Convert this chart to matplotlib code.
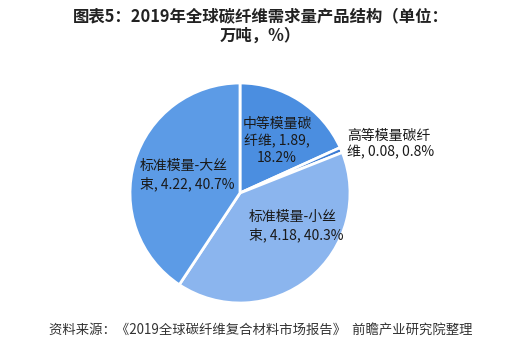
import matplotlib
matplotlib.use('agg')
import matplotlib.pyplot as plt

plt.rcParams['font.family'] = ['Noto Sans CJK SC', 'DejaVu Sans']

# product structure, 2019 global carbon fibre demand (10k tonnes, %)
names = ['中等模量碳纤维', '高等模量碳纤维', '标准模量-小丝束', '标准模量-大丝束']
values = [1.89, 0.08, 4.18, 4.22]
shares = ['18.2%', '0.8%', '40.3%', '40.7%']
label_text = ['中等模量碳\n纤维, 1.89,\n18.2%',
              '高等模量碳纤\n维, 0.08, 0.8%',
              '标准模量-小丝\n束, 4.18, 40.3%',
              '标准模量-大丝\n束, 4.22, 40.7%']
colors = ['#4b8ee0', '#3d7cd4', '#8bb5ee', '#5c9be6']

W, H = 521, 350
cx, cy, r = 240, 193, 110

fig = plt.figure(figsize=(W / 100, H / 100), dpi=100)
ax = fig.add_axes([(cx - r) / W, (H - cy - r) / H, 2 * r / W, 2 * r / H])
ax.pie(values, colors=colors, startangle=90, counterclock=False, radius=1,
       wedgeprops=dict(edgecolor='white', linewidth=2))
ax.set_xlim(-1, 1)
ax.set_ylim(-1, 1)
ax.axis('off')

def to_data(px, py):
    return (px - cx) / r, (cy - py) / r

# label anchors in pixels (x, y, ha)
spots = [(277, 141, 'center'), (347, 144, 'left'), (249, 226, 'left'), (140, 175, 'left')]
for txt, (px, py, ha) in zip(label_text, spots):
    x, y = to_data(px, py)
    ax.text(x, y, txt, ha=ha, va='center', fontsize=10, color='#1a1a1a',
            linespacing=1.25, clip_on=False, multialignment=ha)

fig.text(0.5, 1 - 26 / H, '图表5：2019年全球碳纤维需求量产品结构（单位：\n万吨，%）',
         ha='center', va='center', fontsize=11.8, fontweight='bold', color='#222222',
         linespacing=1.05)
fig.text(0.5, 1 - 331 / H, '资料来源：《2019全球碳纤维复合材料市场报告》  前瞻产业研究院整理',
         ha='center', va='center', fontsize=9.6, color='#333333')

fig.savefig('out.png', dpi=100)
